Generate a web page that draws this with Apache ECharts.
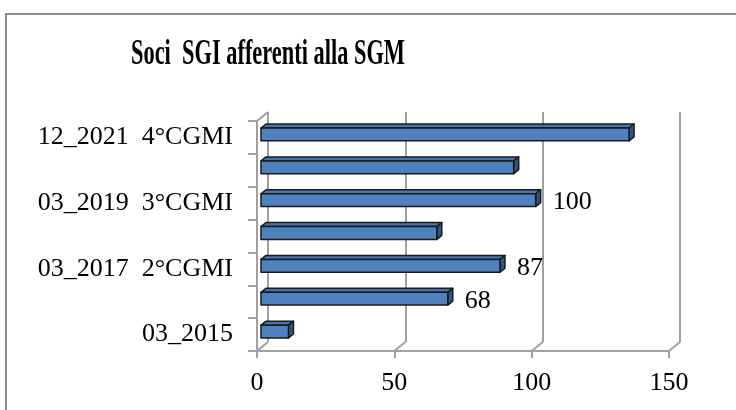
<!DOCTYPE html>
<html>
<head>
<meta charset="utf-8">
<script src="https://cdn.jsdelivr.net/npm/echarts@6/dist/echarts.min.js"></script>
<style>
  html, body { margin: 0; padding: 0; background: #fff; }
  #chart { width: 736px; height: 410px; }
</style>
</head>
<body>
<div id="chart"></div>
<script>
// categories bottom -> top (the in-between labels are not drawn in the original)
const categories = ['03_2015', '03_2016', '03_2017  2°CGMI', '03_2018', '03_2019  3°CGMI', '03_2020', '12_2021  4°CGMI'];
const values = [10, 68, 87, 64, 100, 92, 134];
const labelled = [false, true, true, false, true, false, false];
const xTicks = [0, 50, 100, 150];

const FONT = '"Liberation Serif", "DejaVu Serif", serif';
const GRAY = '#a0a0a0';
// 3D offsets: back wall, bar front face, bar depth
const BACK = [11, -9];
const BAR = [4, -3];
const DEPTH = [5, -4];

const chart = echarts.init(document.getElementById('chart'));

const option = {
  animation: false,
  grid: [
    { left: 257, right: 67, top: 121, bottom: 59 },
    { left: 257 + BACK[0], right: 67 - BACK[0], top: 121 + BACK[1], bottom: 59 - BACK[1] }
  ],
  xAxis: [
    {
      gridIndex: 0, type: 'value', min: 0, max: 150, interval: 50,
      splitLine: { show: false },
      axisLine: { show: true, lineStyle: { color: GRAY, width: 2 } },
      axisTick: { show: true, length: 7, lineStyle: { color: GRAY, width: 2 } },
      axisLabel: { fontFamily: FONT, fontSize: 26, color: '#000', margin: 19 }
    },
    {
      gridIndex: 1, type: 'value', min: 0, max: 150, interval: 50,
      axisLine: { show: false }, axisTick: { show: false }, axisLabel: { show: false },
      splitLine: { show: true, lineStyle: { color: GRAY, width: 2 } }
    }
  ],
  yAxis: [
    {
      gridIndex: 0, type: 'category', data: categories,
      axisLine: { show: true, lineStyle: { color: GRAY, width: 2 } },
      axisTick: { show: true, length: 9, interval: 0, lineStyle: { color: GRAY, width: 2 } },
      axisLabel: { interval: 1, fontFamily: FONT, fontSize: 26, color: '#000', margin: 24 }
    },
    {
      gridIndex: 1, type: 'category', data: categories, show: false
    }
  ],
  series: [{
    type: 'custom',
    xAxisIndex: 0, yAxisIndex: 0,
    data: values.map((v, i) => [v, i]),
    renderItem: function (params, api) {
      const v = api.value(0), cat = api.value(1);
      const s = api.coord([0, cat]);
      const e = api.coord([v, cat]);
      const h = api.size([0, 1])[1] * 0.39;
      const x0 = s[0] + BAR[0], x1 = e[0] + BAR[0];
      const yc = s[1] + BAR[1];
      const y0 = yc - h / 2, y1 = yc + h / 2;
      const dx = DEPTH[0], dy = DEPTH[1];
      const edge = { stroke: '#1a1a1a', lineWidth: 1.5, lineJoin: 'round' };
      const children = [
        { type: 'polygon', shape: { points: [[x0, y0], [x1, y0], [x1 + dx, y0 + dy], [x0 + dx, y0 + dy]] },
          style: Object.assign({ fill: '#4475b0' }, edge) },
        { type: 'polygon', shape: { points: [[x1, y0], [x1 + dx, y0 + dy], [x1 + dx, y1 + dy], [x1, y1]] },
          style: Object.assign({ fill: '#2f5588' }, edge) },
        { type: 'rect', shape: { x: x0, y: y0, width: x1 - x0, height: h },
          style: Object.assign({ fill: '#4f81bd' }, edge) }
      ];
      if (labelled[params.dataIndex]) {
        children.push({
          type: 'text',
          style: { x: x1 + dx + 12, y: yc + 2, text: String(v), font: '26px ' + FONT,
                   fill: '#000', align: 'left', verticalAlign: 'middle' }
        });
      }
      return { type: 'group', children: children };
    }
  }]
};

chart.setOption(option);

// outer frame, title, and the diagonals joining the front axes to the back wall
const graphics = [
  { type: 'rect', shape: { x: 6, y: 14, width: 800, height: 500 },
    style: { fill: 'none', stroke: '#8c8c8c', lineWidth: 2 }, z: -1 },
  { type: 'text', x: 268, y: 55, scaleX: 0.64,
    style: { text: 'Soci  SGI afferenti alla SGM', font: 'bold 35px ' + FONT,
             fill: '#000', align: 'center', verticalAlign: 'middle' } }
];
const yAxisModel = chart.getModel().getComponent('yAxis', 0);
const band = yAxisModel.axis.getBandWidth();
const yBottom = chart.convertToPixel({ yAxisIndex: 0 }, 0) + band / 2;
const yTop = yBottom - band * categories.length;
xTicks.forEach(t => {
  const x = chart.convertToPixel({ xAxisIndex: 0 }, t);
  graphics.push({ type: 'line', shape: { x1: x, y1: yBottom, x2: x + BACK[0], y2: yBottom + BACK[1] },
                  style: { stroke: GRAY, lineWidth: 2 } });
});
const xl = chart.convertToPixel({ xAxisIndex: 0 }, 0);
graphics.push({ type: 'line', shape: { x1: xl, y1: yTop, x2: xl + BACK[0], y2: yTop + BACK[1] },
                style: { stroke: GRAY, lineWidth: 2 } });
chart.setOption({ graphic: graphics });
</script>
</body>
</html>
